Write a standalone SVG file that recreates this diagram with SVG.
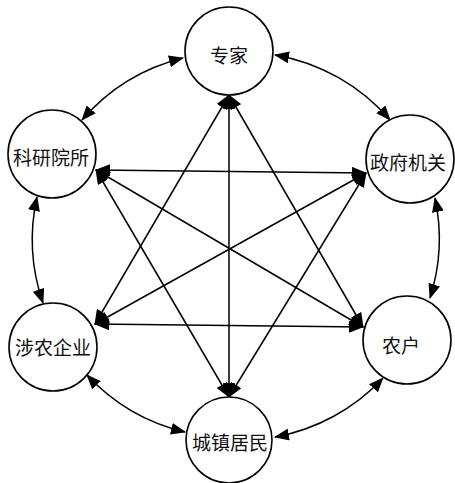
<svg xmlns="http://www.w3.org/2000/svg" width="455" height="483" viewBox="0 0 455 483">
<style>
.node circle{fill:#fff;stroke:#000;stroke-width:1.6}
.node text{font-family:"Noto Sans CJK SC","Noto Sans CJK JP",sans-serif;font-size:19px;fill:#111;text-anchor:middle;dominant-baseline:central}
.edges path,.edges line{fill:none;stroke:#000;stroke-width:1.5;marker-start:url(#ah);marker-end:url(#ah)}
</style>
<defs>
<marker id="ah" markerUnits="userSpaceOnUse" markerWidth="15" markerHeight="12" refX="14" refY="6" orient="auto-start-reverse" viewBox="0 0 15 12">
<path d="M0,0 L15,6 L0,12 Z" fill="#000"/>
</marker>
</defs>
<rect width="455" height="483" fill="#fff"/>
<g class="edges">
<path d="M82,120 A195,195 0 0 1 183,58"/>
<path d="M275,55 A195,195 0 0 1 390,120"/>
<path d="M435,198 A195,195 0 0 1 430,298"/>
<path d="M383,378 A195,195 0 0 1 275,437"/>
<path d="M185,432 A195,195 0 0 1 87,375"/>
<path d="M43,303 A195,195 0 0 1 37,197"/>
<line x1="229" y1="95" x2="95" y2="324"/>
<line x1="229" y1="95" x2="229" y2="397"/>
<line x1="229" y1="95" x2="363" y2="327"/>
<line x1="96" y1="170" x2="366" y2="173"/>
<line x1="96" y1="170" x2="363" y2="327"/>
<line x1="96" y1="170" x2="229" y2="397"/>
<line x1="366" y1="173" x2="95" y2="324"/>
<line x1="366" y1="173" x2="229" y2="397"/>
<line x1="95" y1="324" x2="363" y2="327"/>
</g>
<g id="zhuanjia" class="node"><circle cx="229" cy="51" r="44"/><text x="229" y="54">专家</text></g>
<g id="keyan" class="node"><circle cx="52" cy="154" r="44"/><text x="51" y="156">科研院所</text></g>
<g id="zhengfu" class="node"><circle cx="410" cy="159" r="44"/><text x="408" y="161">政府机关</text></g>
<g id="shenong" class="node"><circle cx="53" cy="347" r="44"/><text x="53" y="346">涉农企业</text></g>
<g id="nonghu" class="node"><circle cx="407" cy="340" r="44"/><text x="401" y="344">农户</text></g>
<g id="chengzhen" class="node"><circle cx="229" cy="440" r="43"/><text x="230" y="441">城镇居民</text></g>
</svg>
